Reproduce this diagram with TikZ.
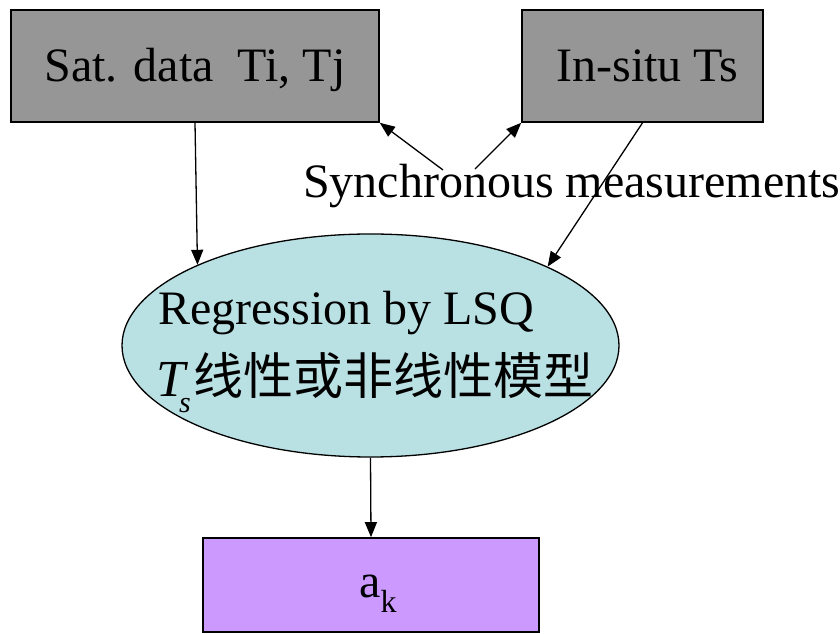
\documentclass[tikz,border=0pt]{standalone}
\usepackage{fontspec}
\setmainfont{Liberation Serif}
\newfontfamily\cjk{Noto Sans CJK SC}
\usetikzlibrary{shapes.geometric,arrows.meta}
\definecolor{boxgray}{HTML}{969696}
\definecolor{ellcyan}{HTML}{B9E1E4}
\definecolor{violetbox}{HTML}{CC99FF}

\begin{document}
\begin{tikzpicture}[x=1pt,y=1pt,
  srcbox/.style={draw=black, line width=1.6pt, fill=boxgray, inner sep=0pt,
    minimum height=112pt, text height=40pt, text depth=8pt,
    font=\fontsize{48}{52}\selectfont},
  conn/.style={-{Triangle[length=15pt,width=12pt]}, line width=1.3pt},
  lbl/.style={inner sep=0pt, font=\fontsize{48}{52}\selectfont}]
\useasboundingbox (0,0) rectangle (840,634);

% input boxes
\node[srcbox, minimum width=368pt] (sat) at (195,568) {Sat. data\ \ Ti, Tj};
\node[srcbox, minimum width=241pt] (insitu) at (642.5,568) {\hspace*{10pt}In-situ Ts};

% regression ellipse
\node[ellipse, draw=black, line width=1.3pt, fill=ellcyan, inner sep=0pt,
      minimum width=497pt, minimum height=223pt] (ell) at (370.5,288.5) {};
\node[lbl, anchor=base west] (regA) at (158,309) {Regression by LSQ};
\node[inner sep=0pt, anchor=base west] (regB) at (156,237)
  {{\fontsize{52}{56}\selectfont\itshape T\kern-6pt\raisebox{-16pt}{\fontsize{30}{32}\selectfont s}}%
   \kern3pt\raisebox{2pt}{\cjk\fontsize{50}{56}\selectfont 线性或非线性模型}};

% result box
\node[draw=black, line width=1.6pt, fill=violetbox, inner sep=0pt,
      minimum width=336pt, minimum height=94pt] (res) at (371,49) {};
\node[lbl, anchor=base west] (ak) at (359,36) {a\raisebox{-15pt}{\fontsize{32}{34}\selectfont k}};

% label of the two synchronous links
\node[lbl, anchor=base west] (sync) at (303,436) {Synchronous measurements};
\coordinate (syncL) at (443,464);
\coordinate (syncR) at (475,465);

% connectors
\draw[conn] (sat.south) -- (ell.155.5);
\draw[conn] (insitu.south) -- (ell.24.5);
\draw[conn] (ell.south) -- (res.north);
\draw[conn] (syncL) -- (sat.south east);
\draw[conn] (syncR) -- (insitu.south west);
\end{tikzpicture}
\end{document}
